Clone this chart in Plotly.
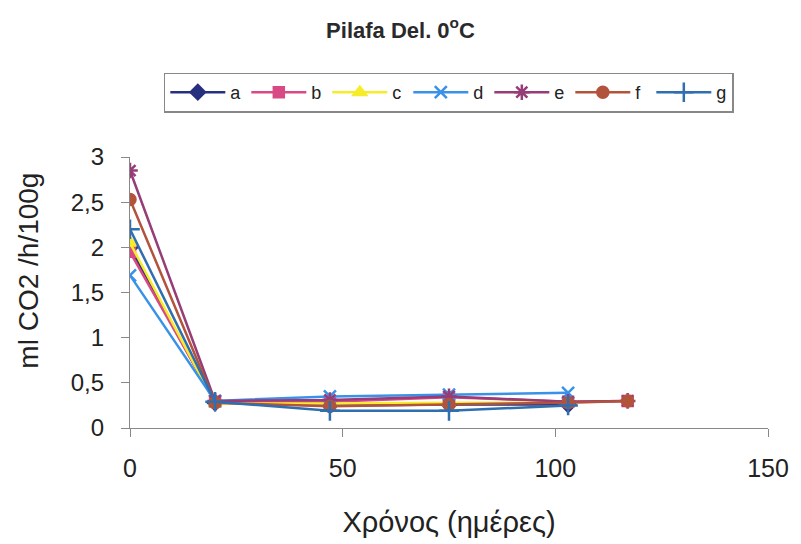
import plotly.graph_objects as go

days_full = [0, 20, 47, 75, 103, 117]
days = [0, 20, 47, 75, 103]

a = [2.0, 0.28, 0.25, 0.26, 0.26]
b = [1.95, 0.29, 0.29, 0.34, 0.29, 0.30]
c = [2.05, 0.27, 0.27, 0.28, 0.28]
d = [1.69, 0.30, 0.35, 0.37, 0.39]
e = [2.85, 0.30, 0.31, 0.35, 0.29, 0.30]
f = [2.53, 0.28, 0.24, 0.26, 0.28, 0.30]
g = [2.20, 0.29, 0.19, 0.19, 0.25]

series = [
    ("a", days, a, "#26307F", "diamond", 11),
    ("b", days_full, b, "#D84A85", "square", 10),
    ("c", days, c, "#F7EC2A", "triangle-up", 11),
    ("d", days, d, "#3A92E8", "x-thin-open", 12),
    ("e", days_full, e, "#963D78", "asterisk-open", 13),
    ("f", days_full, f, "#B2533C", "circle", 11),
    ("g", days, g, "#2F6FB0", "cross-thin-open", 14),
]

fig = go.Figure()
for name, xs, ys, col, sym, sz in series:
    fig.add_trace(go.Scatter(
        x=xs, y=ys, name=name, mode="lines+markers",
        line=dict(color=col, width=2.5),
        marker=dict(symbol=sym, size=sz, color=col, line=dict(color=col, width=2.5)),
    ))

fig.update_layout(
    width=801, height=544,
    paper_bgcolor="white", plot_bgcolor="white",
    margin=dict(l=130, r=31, t=157, b=116),
    separators=", ",
    font=dict(family="Liberation Sans, Arial, sans-serif", color="#222222"),
    title=dict(text="<b>Pilafa Del. 0<sup>o</sup>C</b>", x=0.5, xanchor="center", y=0.945, yanchor="middle",
               font=dict(size=22, color="#2a2a2a")),
    showlegend=True,
    legend=dict(
        orientation="h", x=0.053, xanchor="left", y=1.238, yanchor="middle",
        bordercolor="#888888", borderwidth=1.5, bgcolor="white",
        font=dict(size=18, color="#222222"),
        entrywidth=11, entrywidthmode="pixels", itemwidth=55,
    ),
    xaxis=dict(
        range=[0, 150], tickvals=[0, 50, 100, 150], showgrid=False, zeroline=False,
        showline=True, linecolor="#888888", linewidth=1.2,
        ticks="outside", ticklen=8, tickcolor="#888888", ticklabelstandoff=10,
        tickfont=dict(size=25, color="#222222"),
        title=dict(text="Χρόνος (ημέρες)", font=dict(size=29, color="#222222"), standoff=30),
    ),
    yaxis=dict(
        range=[0, 3], tickvals=[0, 0.5, 1, 1.5, 2, 2.5, 3], showgrid=False, zeroline=False,
        showline=True, linecolor="#888888", linewidth=1.2,
        ticks="outside", ticklen=8, tickcolor="#888888", ticklabelstandoff=12,
        tickfont=dict(size=24, color="#222222"),
    ),
    annotations=[dict(
        text="ml CO2 /h/100g", textangle=-90, xref="paper", yref="paper",
        x=-0.159, y=0.579, xanchor="center", yanchor="middle", showarrow=False,
        font=dict(size=28, color="#222222"),
    )],
)

fig.write_html("out.html")
